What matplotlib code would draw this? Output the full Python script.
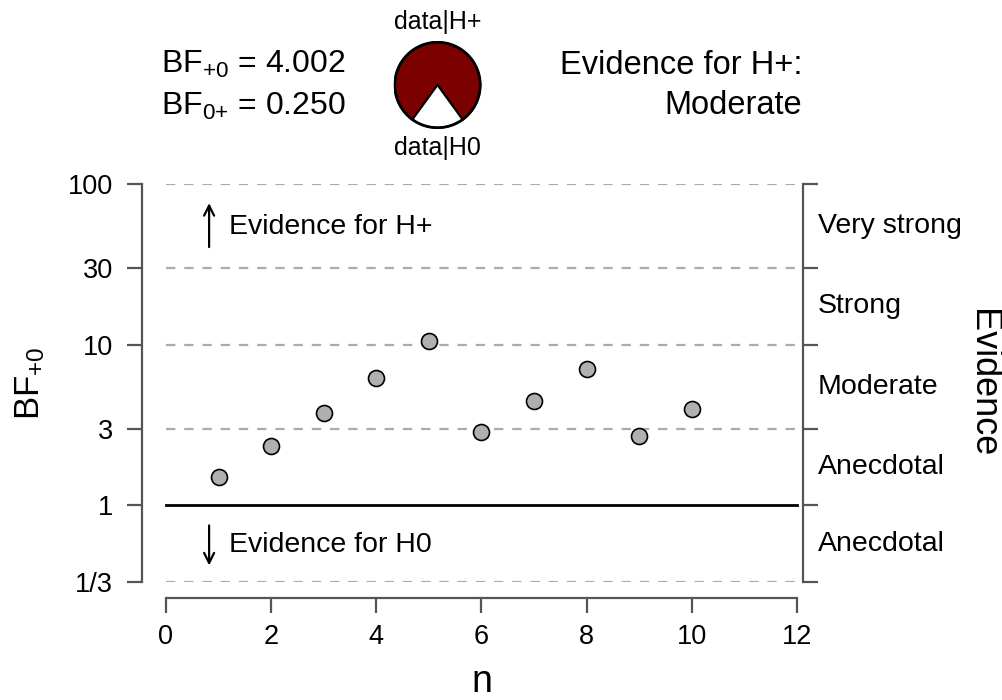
import numpy as np
import matplotlib.pyplot as plt
from matplotlib.ticker import NullLocator, FixedLocator, FixedFormatter
import matplotlib.transforms as mtransforms

plt.rcParams['font.family'] = ['Liberation Sans', 'DejaVu Sans']
plt.rcParams['mathtext.fontset'] = 'custom'
plt.rcParams['mathtext.rm'] = 'Liberation Sans'
plt.rcParams['mathtext.it'] = 'Liberation Sans:italic'
plt.rcParams['mathtext.default'] = 'regular'

# --- data ---
n = [1, 2, 3, 4, 5, 6, 7, 8, 9, 10]
bf10 = [1.50, 2.33, 3.74, 6.18, 10.5, 2.85, 4.45, 7.03, 2.69, 4.002]
bf_final = 4.002
bf01_final = 0.250
evidence_label = "Moderate"

ytick_vals = [1/3, 1, 3, 10, 30, 100]
ytick_labels = ['1/3', '1', '3', '10', '30', '100']
xtick_vals = [0, 2, 4, 6, 8, 10, 12]
band_pos = [np.sqrt(1/3), np.sqrt(3), np.sqrt(30), np.sqrt(300), np.sqrt(3000)]
band_labels = ['Anecdotal', 'Anecdotal', 'Moderate', 'Strong', 'Very strong']

W, H = 1002, 700
fig = plt.figure(figsize=(W / 100, H / 100), dpi=100)
ax = fig.add_axes([142 / W, 1 - 582 / H, 661 / W, 398 / H])

spine_col = '#555555'
ax.set_yscale('log')
ax.set_ylim(1/3, 100)
ax.set_xlim(-0.456, 12.114)

# reference lines
for v in [1/3, 3, 10, 30, 100]:
    ax.plot([0, 12], [v, v], color='#ababab', lw=1.6, ls=(0, (4.2, 4)), zorder=1)
ax.plot([0, 12], [1, 1], color='black', lw=2, zorder=2)

ax.plot(n, bf10, 'o', ms=11.5, mfc='#b0b0b0', mec='black', mew=1.2, zorder=3)

# axes styling (R-like detached axes)
ax.spines['top'].set_visible(False)
for s in ['left', 'right', 'bottom']:
    ax.spines[s].set_color(spine_col)
    ax.spines[s].set_linewidth(1.6)
ax.spines['left'].set_bounds(1/3, 100)
ax.spines['right'].set_bounds(1/3, 100)
ax.spines['bottom'].set_bounds(0, 12)
ax.spines['bottom'].set_position(('outward', 11.5))

ax.yaxis.set_major_locator(FixedLocator(ytick_vals))
ax.yaxis.set_major_formatter(FixedFormatter(ytick_labels))
ax.yaxis.set_minor_locator(NullLocator())
ax.set_xticks(xtick_vals)
ax.tick_params(axis='y', which='major', direction='out', length=11, width=1.6,
               color=spine_col, labelsize=19.5, pad=10, right=True, labelright=False)
ax.tick_params(axis='x', direction='out', length=11, width=1.6,
               color=spine_col, labelsize=19.5, pad=8)

fig.text(481.5 / W, 1 - 682 / H, 'n', fontsize=27, ha='center', va='center')
fig.text(30 / W, 1 - 383 / H, r'BF$_{{+}0}$', fontsize=25, rotation=90,
         ha='center', va='center')
fig.text(983 / W, 1 - 383 / H, 'Evidence', fontsize=26, rotation=-90,
         ha='center', va='center')

# evidence category labels on the right
trans = mtransforms.blended_transform_factory(ax.transAxes, ax.transData)
for yv, lab in zip(band_pos, band_labels):
    ax.text(1.0227, yv, lab, transform=trans, fontsize=20.5, ha='left', va='center')

# direction arrows
ax.annotate('', xy=(0.82, 76), xytext=(0.82, 40.5),
            arrowprops=dict(arrowstyle='->', lw=1.6, color='black',
                            shrinkA=0, shrinkB=0, mutation_scale=18))
ax.text(1.2, 54, 'Evidence for H+', fontsize=20.5, ha='left', va='center')
ax.annotate('', xy=(0.82, 0.423), xytext=(0.82, 0.75),
            arrowprops=dict(arrowstyle='->', lw=1.6, color='black',
                            shrinkA=0, shrinkB=0, mutation_scale=18))
ax.text(1.2, 0.563, 'Evidence for H0', fontsize=20.5, ha='left', va='center')

# header: BF values
fig.text(161 / W, 1 - 64 / H, r'BF$_{{+}0}$ = %.3f' % bf_final, fontsize=23,
         ha='left', va='center')
fig.text(161 / W, 1 - 106 / H, r'BF$_{0{+}}$ = %.3f' % bf01_final, fontsize=23,
         ha='left', va='center')

# header: evidence text
fig.text(802 / W, 1 - 66 / H, 'Evidence for H+:', fontsize=23.5, ha='right', va='center')
fig.text(802 / W, 1 - 105 / H, evidence_label, fontsize=23.5, ha='right', va='center')

# header: probability wheel
pcx, pcy, pr = 437.5, 85, 44
pax = fig.add_axes([(pcx - pr) / W, 1 - (pcy + pr) / H, 2 * pr / W, 2 * pr / H])
p_h1 = bf_final / (1 + bf_final)
p_h0 = 1 - p_h1
pax.pie([p_h1, p_h0], colors=['#7b0000', 'white'], startangle=270 + p_h0 * 180,
        wedgeprops=dict(edgecolor='black', linewidth=1.5))
pax.add_patch(plt.Circle((0, 0), 1, fill=False, ec='black', lw=2))
pax.set_xlim(-1.03, 1.03)
pax.set_ylim(-1.03, 1.03)
pax.set_aspect('equal')
pax.axis('off')
fig.text(pcx / W, 1 - 22 / H, 'data|H+', fontsize=18, ha='center', va='center')
fig.text(pcx / W, 1 - 148 / H, 'data|H0', fontsize=18, ha='center', va='center')

fig.savefig('out.png', dpi=100)
